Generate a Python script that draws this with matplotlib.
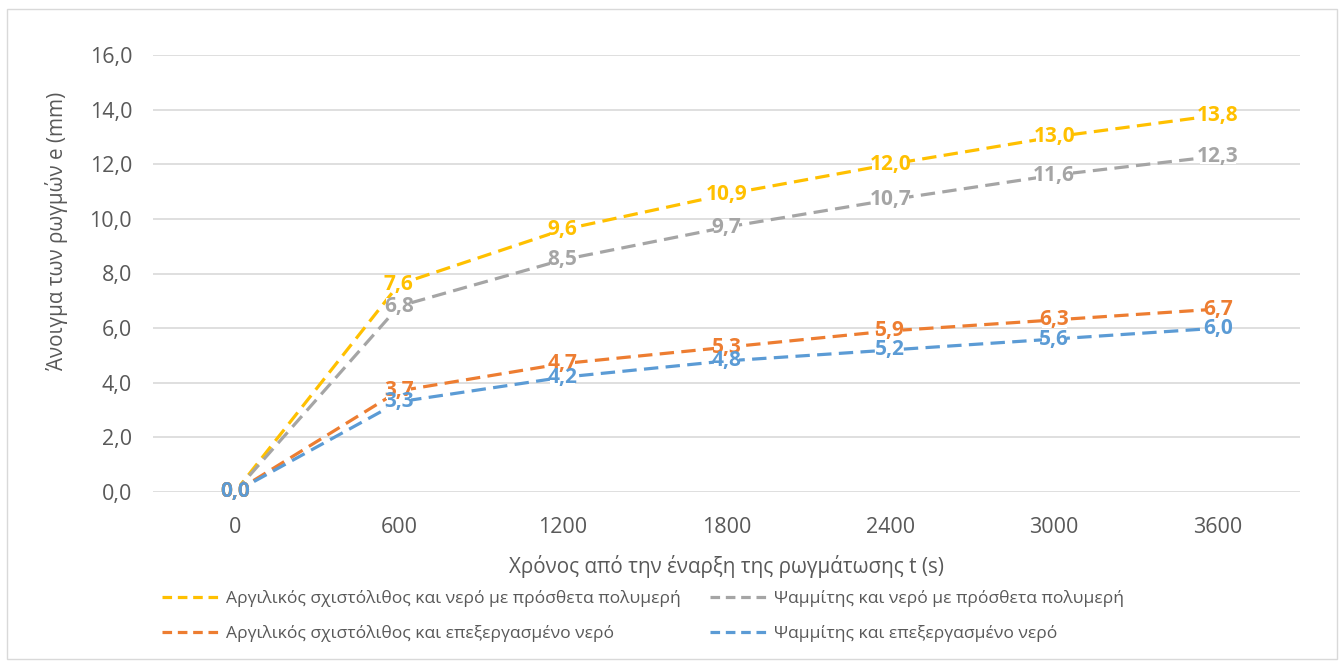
import matplotlib.pyplot as plt
from matplotlib.patches import Rectangle
from matplotlib.lines import Line2D

plt.rcParams['font.family'] = ['Open Sans', 'DejaVu Sans']

# Χρόνος (s) και άνοιγμα ρωγμών (mm)
t = [0, 600, 1200, 1800, 2400, 3000, 3600]
shale_poly = [0.0, 7.6, 9.6, 10.9, 12.0, 13.0, 13.8]
sand_poly = [0.0, 6.8, 8.5, 9.7, 10.7, 11.6, 12.3]
shale_treated = [0.0, 3.7, 4.7, 5.3, 5.9, 6.3, 6.7]
sand_treated = [0.0, 3.3, 4.2, 4.8, 5.2, 5.6, 6.0]

series = [
    ('Αργιλικός σχιστόλιθος και νερό με πρόσθετα πολυμερή', shale_poly, '#FFC000'),
    ('Ψαμμίτης και νερό με πρόσθετα πολυμερή', sand_poly, '#A5A5A5'),
    ('Αργιλικός σχιστόλιθος και επεξεργασμένο νερό', shale_treated, '#ED7D31'),
    ('Ψαμμίτης και επεξεργασμένο νερό', sand_treated, '#5B9BD5'),
]

TXT = '#595959'
GRID = '#D9D9D9'

fig = plt.figure(figsize=(13.44, 6.64), dpi=100)
ax = fig.add_axes([153 / 1344, 172 / 664, 1147 / 1344, 437 / 664])

x = list(range(len(t)))
handles = []
for name, vals, col in series:
    ax.plot(x, vals, color=col, lw=2.3, linestyle=(0, (4.5, 2.3)), zorder=3)
    handles.append(Line2D([], [], color=col, lw=2.3, linestyle=(0, (3, 1.8)), label=name))


def fmt(v):
    return f'{v:.1f}'.replace('.', ',')


# πρώτα τα λευκά πλαίσια, μετά οι ετικέτες τιμών από πάνω
for name, vals, col in series:
    for xi, v in zip(x, vals):
        ax.text(xi, v, fmt(v), color='none', fontsize=15, fontweight='bold',
                ha='center', va='center', zorder=4,
                bbox=dict(boxstyle='square,pad=-0.12', fc='white', ec='none'))
for name, vals, col in series:
    for xi, v in zip(x, vals):
        ax.text(xi, v, fmt(v), color=col, fontsize=15, fontweight='bold',
                ha='center', va='center', zorder=5)

ax.set_xlim(-0.5, len(t) - 0.5)
ax.set_ylim(0, 16)
ax.set_yticks(range(0, 17, 2))
ax.set_yticklabels([fmt(v) for v in range(0, 17, 2)])
ax.set_xticks(x)
ax.set_xticklabels([str(v) for v in t])
ax.tick_params(axis='both', length=0, labelsize=15.5, colors=TXT)
ax.tick_params(axis='y', pad=15)
ax.tick_params(axis='x', pad=18)
ax.grid(axis='y', color=GRID, lw=1.2)
ax.set_axisbelow(True)
for s in ax.spines.values():
    s.set_visible(False)

ax.set_xlabel('Χρόνος από την έναρξη της ρωγμάτωσης t (s)', fontsize=14.9, color=TXT, va='center')
ax.set_ylabel('Άνοιγμα των ρωγμών e (mm)', fontsize=14.9, color=TXT, va='center')
ax.xaxis.set_label_coords(0.5, (492 - 566) / 437)
ax.yaxis.set_label_coords((57 - 153) / 1147, (492 - 231) / 437)

order = [handles[0], handles[2], handles[1], handles[3]]
fig.legend(handles=order, loc='upper left', bbox_to_anchor=(155 / 1344, 1 - 583 / 664),
           ncol=2, frameon=False, fontsize=12.6, labelcolor=TXT, handlelength=3.4,
           handletextpad=0.23, columnspacing=1.7, labelspacing=1.05, borderaxespad=0)

fig.patches.append(Rectangle((7 / 1344, 5 / 664), 1330 / 1344, 650 / 664,
                             transform=fig.transFigure, fill=False, ec=GRID, lw=1))

fig.savefig('out.png', dpi=100)
